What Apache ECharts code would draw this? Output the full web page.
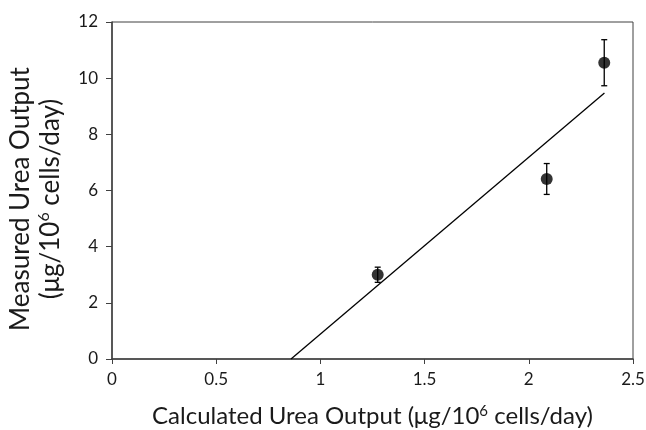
<!DOCTYPE html>
<html>
<head>
<meta charset="utf-8">
<script src="https://cdn.jsdelivr.net/npm/echarts@6/dist/echarts.min.js"></script>
<style>
  html, body { margin: 0; padding: 0; background: #fff; }
  #chart { width: 646px; height: 430px; }
</style>
</head>
<body>
<div id="chart"></div>
<script>
// measured points (x = calculated, y = measured) and their error bars
var calcX = [1.275, 2.086, 2.362];
var measY = [3.0, 6.41, 10.55];
var errY = [0.27, 0.55, 0.82];
// fitted line, read from its two ends
var fitLine = [[0.859, 0], [2.363, 9.47]];
var xTicks = [0, 0.5, 1, 1.5, 2, 2.5];
var yTicks = [0, 2, 4, 6, 8, 10, 12];

var font = "Lato";
var textCol = "#1a1a1a";
var axisCol = "#404040";

var points = calcX.map(function (x, i) { return [x, measY[i]]; });
var bars = calcX.map(function (x, i) { return [x, measY[i] - errY[i], measY[i] + errY[i]]; });

var chart = echarts.init(document.getElementById("chart"));

var opt = {
  animation: false,
  grid: {
    left: 112, right: 13, top: 22, bottom: 71,
    outerBoundsMode: "none",
    containLabel: false,
    show: true, borderColor: axisCol, borderWidth: 1
  },
  xAxis: {
    type: "value",
    min: 0, max: 2.5, interval: 0.5,
    name: "Calculated Urea Output (μg/10{sup|6} cells/day)",
    nameLocation: "middle",
    nameGap: 45,
    nameTextStyle: {
      fontFamily: font, fontSize: 24, color: textCol,
      rich: { sup: { fontFamily: font, fontSize: 15, color: textCol, verticalAlign: "top", padding: [0, 0, 9, 0] } }
    },
    axisLine: { show: true, lineStyle: { color: axisCol, width: 1.5 } },
    axisTick: { show: true, inside: false, length: 5, lineStyle: { color: axisCol } },
    splitLine: { show: false },
    axisLabel: {
      margin: 12, fontFamily: font, fontSize: 17, color: textCol,
      formatter: function (v) { return xTicks.indexOf(v) >= 0 ? String(v) : ""; }
    }
  },
  yAxis: {
    type: "value",
    min: 0, max: 12, interval: 2,
    name: "Measured Urea Output\n(μg/10{sup|6} cells/day)",
    nameLocation: "middle",
    nameGap: 46,
    nameTextStyle: {
      fontFamily: font, fontSize: 26, color: textCol, lineHeight: 30,
      padding: [0, 17, 0, 0],
      rich: { sup: { fontFamily: font, fontSize: 16, color: textCol, verticalAlign: "top", padding: [0, 0, 10, 0] } }
    },
    axisLine: { show: true, lineStyle: { color: axisCol, width: 1.5 } },
    axisTick: { show: true, inside: false, length: 6, lineStyle: { color: axisCol } },
    splitLine: { show: false },
    axisLabel: {
      margin: 14, fontFamily: font, fontSize: 17, color: textCol,
      formatter: function (v) { return yTicks.indexOf(v) >= 0 ? String(v) : ""; }
    }
  },
  series: [
    {
      type: "line",
      data: fitLine,
      symbol: "none",
      lineStyle: { color: "#000", width: 1.3 },
      z: 2
    },
    {
      type: "custom",
      data: bars,
      renderItem: function (params, api) {
        var x = api.value(0);
        var lo = api.coord([x, api.value(1)]);
        var hi = api.coord([x, api.value(2)]);
        var c = 3;
        var st = { stroke: "#000", lineWidth: 1.3 };
        return {
          type: "group",
          children: [
            { type: "line", shape: { x1: lo[0], y1: lo[1], x2: hi[0], y2: hi[1] }, style: st },
            { type: "line", shape: { x1: lo[0] - c, y1: lo[1], x2: lo[0] + c, y2: lo[1] }, style: st },
            { type: "line", shape: { x1: hi[0] - c, y1: hi[1], x2: hi[0] + c, y2: hi[1] }, style: st }
          ]
        };
      },
      z: 3
    },
    {
      type: "scatter",
      data: points,
      symbol: "circle",
      symbolSize: 12,
      itemStyle: { color: "#000" },
      z: 4
    }
  ]
};

chart.setOption(opt);
</script>
</body>
</html>
